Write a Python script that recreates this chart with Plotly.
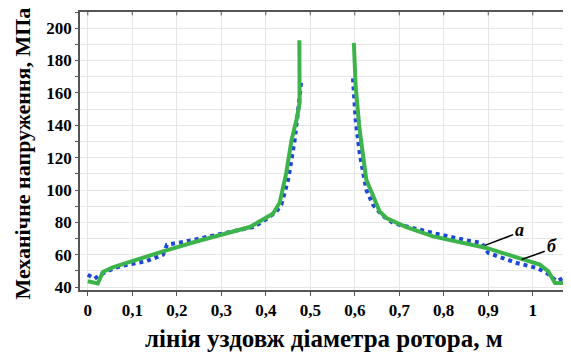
import plotly.graph_objects as go

# Curve "а" (blue dotted) - left and right branches
a_left_x = [0.0, 0.015, 0.03, 0.06, 0.079, 0.131, 0.169, 0.178, 0.221, 0.281, 0.33, 0.371, 0.394, 0.424, 0.435, 0.45, 0.454, 0.465, 0.472, 0.48]
a_left_y = [47.7, 45.2, 48.0, 51.8, 53.3, 55.9, 60.0, 66.2, 68.2, 71.7, 74.5, 77.1, 80.6, 86.7, 90.9, 106.0, 112.4, 131.0, 147.4, 167.9]
a_right_x = [0.596, 0.602, 0.611, 0.626, 0.641, 0.66, 0.686, 0.731, 0.776, 0.851, 0.885, 0.9, 0.964, 1.009, 1.031, 1.054, 1.076]
a_right_y = [169.0, 143.3, 122.7, 100.1, 90.9, 84.7, 79.6, 76.5, 73.4, 68.9, 67.2, 61.1, 54.9, 51.8, 48.8, 43.6, 46.7]

# Curve "б" (green solid)
b_left_x = [0.0, 0.0225, 0.028, 0.034, 0.056, 0.101, 0.169, 0.244, 0.319, 0.364, 0.416, 0.431, 0.446, 0.458, 0.469, 0.476, 0.4755]
b_left_y = [43.6, 42.2, 45.7, 49.4, 52.2, 56.3, 62.1, 68.2, 74.0, 77.1, 85.3, 91.9, 110.4, 130.9, 143.3, 153.6, 192.6]
b_right_x = [0.598, 0.602, 0.611, 0.622, 0.626, 0.656, 0.671, 0.716, 0.776, 0.896, 0.971, 1.016, 1.035, 1.05, 1.072]
b_right_y = [190.9, 163.8, 137.0, 114.5, 106.3, 86.7, 82.7, 77.1, 71.3, 64.2, 57.4, 53.9, 49.7, 42.6, 42.6]

x_ticks = [0, 0.1, 0.2, 0.3, 0.4, 0.5, 0.6, 0.7, 0.8, 0.9, 1.0]
x_tick_text = ["0", "0,1", "0,2", "0,3", "0,4", "0,5", "0,6", "0,7", "0,8", "0,9", "1"]
y_ticks = [40, 60, 80, 100, 120, 140, 160, 180, 200]

# Labels
label_a = {"text": "а", "x": 0.971, "y": 75.0, "line": ([0.8925, 0.956], [65.8, 72.4])}
label_b = {"text": "б", "x": 1.0425, "y": 65.2, "line": ([0.975, 1.027], [57.0, 62.1])}

BLUE = "rgb(30,70,215)"
GREEN = "rgb(60,180,75)"
FONT = "Liberation Serif"

fig = go.Figure()
for xs, ys in [(a_left_x, a_left_y), (a_right_x, a_right_y)]:
    fig.add_trace(go.Scatter(x=xs, y=ys, mode="lines",
                             line=dict(color=BLUE, width=4, dash="dot"),
                             showlegend=False, hoverinfo="skip"))
for xs, ys in [(b_left_x, b_left_y), (b_right_x, b_right_y)]:
    fig.add_trace(go.Scatter(x=xs, y=ys, mode="lines",
                             line=dict(color=GREEN, width=4),
                             showlegend=False, hoverinfo="skip"))

for lab in (label_a, label_b):
    lx, ly = lab["line"]
    fig.add_trace(go.Scatter(x=lx, y=ly, mode="lines",
                             line=dict(color="black", width=1.5),
                             showlegend=False, hoverinfo="skip"))
    fig.add_annotation(x=lab["x"], y=lab["y"], text="<b><i>" + lab["text"] + "</i></b>",
                       xanchor="center", yanchor="middle",
                       showarrow=False, font=dict(family=FONT, size=18, color="black"))

# inward ticks on the top frame
for t in x_ticks:
    fig.add_shape(type="line", xref="x", yref="paper", x0=t, x1=t, y0=1, y1=0.988,
                  line=dict(color="#555", width=1))

fig.add_annotation(xref="paper", yref="paper", x=-0.118, y=0.491,
                   xanchor="center", yanchor="middle",
                   text="<b>Механічне напруження, МПа</b>", textangle=-90,
                   showarrow=False, font=dict(family=FONT, size=22, color="black"))
fig.add_annotation(xref="paper", yref="paper", x=0.497, y=-0.173,
                   xanchor="center", yanchor="middle",
                   text="<b>лінія уздовж діаметра ротора, м</b>",
                   showarrow=False, font=dict(family=FONT, size=25, color="black"))

# the page body adds an 8px margin; size the figure to fill the rest of the window
fig.update_layout(
    width=563, height=344,
    margin=dict(l=72, r=0, t=4, b=62),
    paper_bgcolor="white", plot_bgcolor="white",
    font=dict(family=FONT, color="black"),
)
fig.update_xaxes(
    range=[-0.0175, 1.086], tickvals=x_ticks, ticktext=["<b>%s</b>" % t for t in x_tick_text],
    tickfont=dict(family=FONT, size=17, color="black"),
    showgrid=True, gridcolor="#e6e6e6", gridwidth=1,
    showline=True, linecolor="#555", linewidth=1.5, mirror=True,
    ticks="outside", ticklen=4, tickcolor="#555", zeroline=False,
)
fig.update_yaxes(
    range=[38.2, 210], tickvals=y_ticks, ticktext=["<b>%d</b>" % v for v in y_ticks],
    tickfont=dict(family=FONT, size=17, color="black"),
    showgrid=True, gridcolor="#e6e6e6", gridwidth=1,
    minor=dict(dtick=10, tick0=0, showgrid=True, gridcolor="#e6e6e6", ticks="outside", ticklen=3, tickcolor="#555"),
    showline=True, linecolor="#555", linewidth=1.5,
    ticks="outside", ticklen=3, tickcolor="#555", zeroline=False,
)

fig.write_html("out.html")
